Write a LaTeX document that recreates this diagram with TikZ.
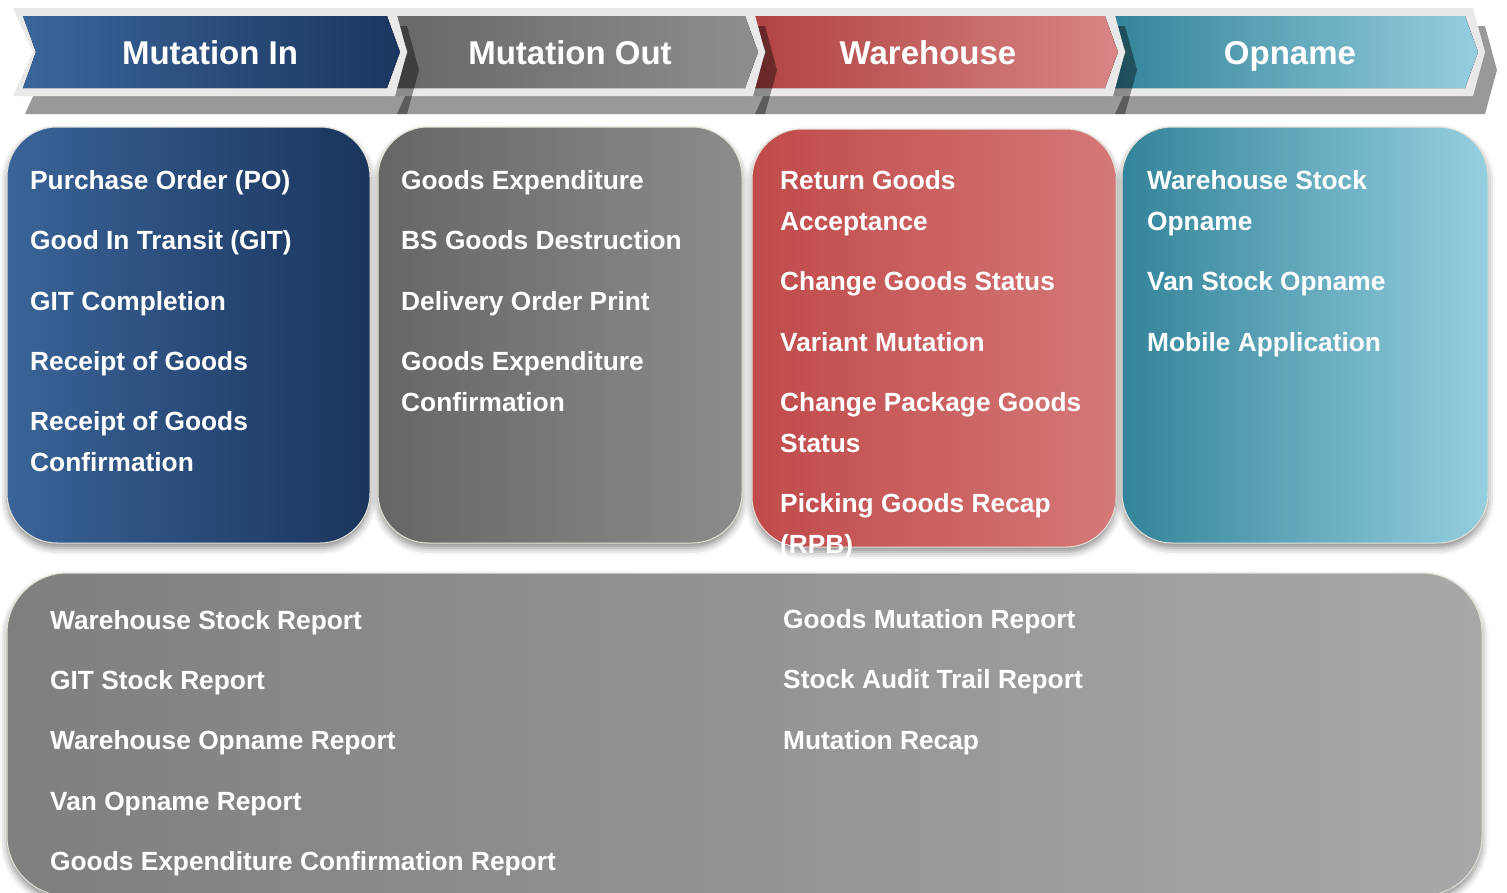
\documentclass[tikz,border=0pt]{standalone}
\usepackage{fontspec}
\setmainfont{Liberation Sans}
\usetikzlibrary{shadows.blur}
\definecolor{bandgray}{HTML}{E9E9E9}
\definecolor{cardline}{HTML}{E4E0D4}
\definecolor{miL}{HTML}{3A659A}\definecolor{miR}{HTML}{1B365F}
\definecolor{moL}{HTML}{686868}\definecolor{moR}{HTML}{8E8E8E}
\definecolor{whL}{HTML}{B04343}\definecolor{whR}{HTML}{D98585}
\definecolor{opL}{HTML}{33849A}\definecolor{opR}{HTML}{96CEDF}
\definecolor{caL}{HTML}{3A6498}\definecolor{caR}{HTML}{1A345C}
\definecolor{cbL}{HTML}{666666}\definecolor{cbR}{HTML}{8C8C8C}
\definecolor{ccL}{HTML}{C04A4A}\definecolor{ccR}{HTML}{D57878}
\definecolor{cdL}{HTML}{33849A}\definecolor{cdR}{HTML}{95CFE0}
\definecolor{ceL}{HTML}{7F7F7F}\definecolor{ceR}{HTML}{A8A8A8}
\newcommand\mychev[4]{%
  \fill[black,fill opacity=0.4,shift={(12,18)}] ({#1-10},8) -- ({#2+8},8) -- ({#2+20},52) -- ({#2+8},96) -- ({#1-10},96) -- ({#1+10},52) -- cycle;
  \fill[bandgray] ({#1-10},8) -- ({#2+8},8) -- ({#2+20},52) -- ({#2+8},96) -- ({#1-10},96) -- ({#1+10},52) -- cycle;
  \fill[left color=#3,right color=#4] (#1,16) -- (#2,16) -- ({#2+13},52) -- (#2,88) -- (#1,88) -- ({#1+13},52) -- cycle;
}
\tikzset{
  head/.style={anchor=base, inner sep=0pt, text=white, font=\bfseries\fontsize{33}{40}\selectfont},
  ctext/.style={anchor=base west, inner sep=0pt, text=white, font=\bfseries\fontsize{26.3}{41}\selectfont},
  card/.style={rounded corners=50pt, draw=cardline, line width=1pt,
    blur shadow={shadow xshift=0pt, shadow yshift=-5pt, shadow blur radius=7pt, shadow opacity=45}},
}
\begin{document}
\begin{tikzpicture}[x=1pt,y=-1pt]
\useasboundingbox (0,0) rectangle (1507,892);
% header chevrons, right to left
\mychev{1113}{1465}{opL}{opR}
\mychev{753}{1105}{whL}{whR}
\mychev{395}{745}{moL}{moR}
\mychev{23}{387}{miL}{miR}
\node[head] (hmi) at (210,64) {Mutation In};
\node[head] (hmo) at (570,64) {Mutation Out};
\node[head] (hwh) at (928,64) {Warehouse};
\node[head] (hop) at (1290,64) {Opname};
% cards
\draw[card, left color=caL, right color=caR] (7,127) rectangle (370,543);
\draw[card, left color=cbL, right color=cbR] (378,127) rectangle (742,543);
\draw[card, left color=ccL, right color=ccR] (752,129) rectangle (1116,547);
\draw[card, left color=cdL, right color=cdR] (1122,127) rectangle (1488,543);
\draw[card, rounded corners=60pt, left color=ceL, right color=ceR] (7,573) rectangle (1482,896);
% card 1
\node[ctext] (a1) at (30,189) {Purchase Order (PO)};
\node[ctext] (a2) at (30,249) {Good In Transit (GIT)};
\node[ctext] (a3) at (30,310) {GIT Completion};
\node[ctext] (a4) at (30,370) {Receipt of Goods};
\node[ctext] (a5) at (30,430) {Receipt of Goods};
\node[ctext] (a5b) at (30,471) {Confirmation};
% card 2
\node[ctext] (b1) at (401,189) {Goods Expenditure};
\node[ctext] (b2) at (401,249) {BS Goods Destruction};
\node[ctext] (b3) at (401,310) {Delivery Order Print};
\node[ctext] (b4) at (401,370) {Goods Expenditure};
\node[ctext] (b4b) at (401,411) {Confirmation};
% card 3
\node[ctext] (c1) at (780,189) {Return Goods};
\node[ctext] (c1b) at (780,230) {Acceptance};
\node[ctext] (c2) at (780,290) {Change Goods Status};
\node[ctext] (c3) at (780,351) {Variant Mutation};
\node[ctext] (c4) at (780,411) {Change Package Goods};
\node[ctext] (c4b) at (780,452) {Status};
\node[ctext] (c5) at (780,512) {Picking Goods Recap};
\node[ctext] (c5b) at (780,553) {(RPB)};
% card 4
\node[ctext] (d1) at (1147,189) {Warehouse Stock};
\node[ctext] (d1b) at (1147,230) {Opname};
\node[ctext] (d2) at (1147,290) {Van Stock Opname};
\node[ctext] (d3) at (1147,351) {Mobile Application};
% bottom
\node[ctext] (e1) at (50,629) {Warehouse Stock Report};
\node[ctext] (e2) at (50,689) {GIT Stock Report};
\node[ctext] (e3) at (50,749) {Warehouse Opname Report};
\node[ctext] (e4) at (50,810) {Van Opname Report};
\node[ctext] (e5) at (50,870) {Goods Expenditure Confirmation Report};
\node[ctext] (f1) at (783,628) {Goods Mutation Report};
\node[ctext] (f2) at (783,688) {Stock Audit Trail Report};
\node[ctext] (f3) at (783,749) {Mutation Recap};
\end{tikzpicture}
\end{document}
